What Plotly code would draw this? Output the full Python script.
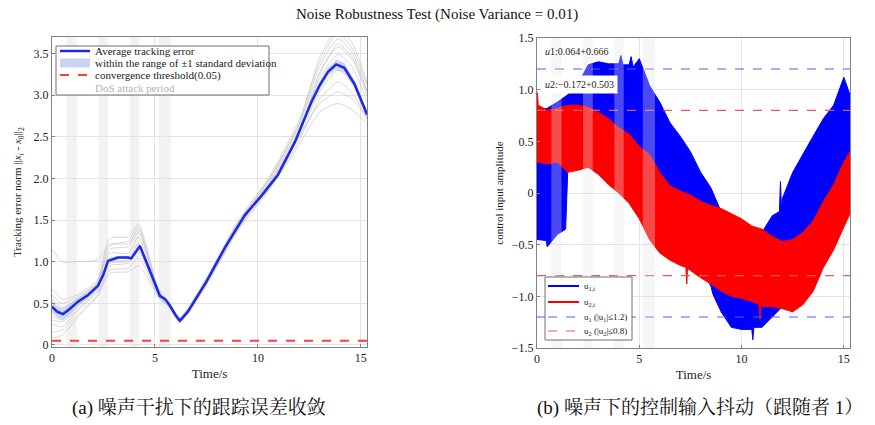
import plotly.graph_objects as go

SERIF = "Liberation Serif, Times New Roman, serif"
CJK = "Liberation Serif, Noto Serif CJK SC, Noto Sans CJK SC, serif"

# ---------------- data ----------------
dos_periods = [(0.70, 1.20), (2.25, 2.73), (3.78, 4.24), (5.17, 5.77)]

# (a) tracking error
t_mean = [0, 0.25, 0.53, 0.8, 1.26, 1.75, 2.23, 2.5, 2.72, 3.2, 3.69, 3.85, 4.27, 4.75,
          5.24, 5.5, 5.73, 6.0, 6.21, 6.6, 7.5, 8.4, 9.37, 10.2, 10.97, 11.8, 12.6, 13.0,
          13.4, 13.8, 14.2, 14.7, 15.3]
mean_err = [0.46, 0.40, 0.37, 0.42, 0.52, 0.60, 0.71, 0.85, 1.01, 1.05, 1.05, 1.04, 1.19, 0.90,
            0.59, 0.55, 0.47, 0.36, 0.29, 0.40, 0.76, 1.17, 1.56, 1.80, 2.04, 2.44, 2.92, 3.12,
            3.28, 3.37, 3.33, 3.13, 2.77]
std_err = [0.07, 0.07, 0.07, 0.06, 0.05, 0.04, 0.03, 0.03, 0.03, 0.02, 0.02, 0.02, 0.03, 0.02,
           0.02, 0.02, 0.02, 0.02, 0.02, 0.02, 0.02, 0.02, 0.02, 0.02, 0.02, 0.03, 0.04, 0.05,
           0.05, 0.06, 0.06, 0.05, 0.04]

t_trial = [0, 0.5, 1.2, 2.2, 2.8, 3.7, 4.2, 5.2, 5.7, 6.2, 7.5, 9.0, 10.5, 12.0, 13.0, 13.9, 14.6, 15.3]
trial_01 = [1.15, 1.00, 1.00, 1.02, 1.20, 1.25, 1.42, 0.62, 0.50, 0.31, 0.78, 1.45, 1.98, 2.65, 3.35, 3.68, 3.50, 3.05]
trial_02 = [0.68, 0.55, 0.60, 0.78, 1.28, 1.30, 1.45, 0.66, 0.50, 0.33, 0.80, 1.48, 2.00, 2.70, 3.40, 3.75, 3.55, 3.12]
trial_03 = [0.55, 0.45, 0.55, 0.75, 1.15, 1.18, 1.35, 0.62, 0.49, 0.31, 0.78, 1.44, 1.95, 2.62, 3.28, 3.58, 3.42, 3.00]
trial_04 = [0.35, 0.30, 0.45, 0.68, 1.00, 1.02, 1.22, 0.60, 0.48, 0.30, 0.76, 1.43, 1.93, 2.58, 3.20, 3.49, 3.33, 2.92]
trial_05 = [0.25, 0.22, 0.40, 0.64, 0.95, 0.98, 1.12, 0.58, 0.46, 0.28, 0.74, 1.40, 1.90, 2.50, 3.05, 3.30, 3.15, 2.80]
trial_06 = [0.15, 0.18, 0.35, 0.60, 0.90, 0.92, 1.05, 0.57, 0.46, 0.28, 0.73, 1.38, 1.87, 2.45, 2.95, 3.16, 3.02, 2.72]
trial_07 = [0.08, 0.12, 0.32, 0.58, 0.86, 0.88, 0.95, 0.56, 0.45, 0.27, 0.72, 1.36, 1.85, 2.40, 2.80, 2.90, 2.82, 2.66]
trial_08 = [0.45, 0.40, 0.50, 0.72, 1.10, 1.10, 1.30, 0.60, 0.47, 0.29, 0.76, 1.42, 1.92, 2.55, 3.25, 3.62, 3.45, 3.05]
trial_09 = [0.30, 0.28, 0.42, 0.66, 0.98, 1.00, 1.15, 0.59, 0.47, 0.30, 0.75, 1.41, 1.91, 2.50, 2.90, 3.04, 2.95, 2.72]
trial_10 = [0.60, 0.50, 0.58, 0.75, 1.20, 1.22, 1.38, 0.63, 0.50, 0.32, 0.79, 1.46, 1.97, 2.66, 3.45, 3.80, 3.62, 3.15]
trials = [trial_01, trial_02, trial_03, trial_04, trial_05, trial_06, trial_07, trial_08, trial_09, trial_10]
threshold = 0.05

t_u1_up = [0, 0.5, 1.0, 1.4, 1.5, 2.0, 2.5, 3.0, 3.5, 4.0, 4.1, 4.2, 4.5, 4.6, 4.7, 5.0, 5.5, 6.0, 6.5,
           7.0, 7.5, 8.0, 8.5, 9.0, 9.5, 10.0, 10.5, 11.0, 11.5, 11.85, 11.9, 11.95, 12.0, 12.5, 13.0,
           13.5, 14.0, 14.5, 15.0, 15.3]
u1_upper = [0.80, 0.82, 0.88, 0.93, 0.95, 1.05, 1.24, 1.27, 1.25, 1.25, 1.33, 1.24, 1.24, 1.32, 1.22,
            1.30, 1.04, 0.88, 0.68, 0.55, 0.40, 0.20, 0.05, -0.18, -0.28, -0.30, -0.36, -0.38, -0.22,
            -0.18, 0.11, -0.15, -0.05, 0.20, 0.38, 0.55, 0.72, 0.85, 1.12, 0.95]
t_u1_low = [0, 0.45, 0.5, 1.0, 1.4, 1.5, 2.0, 2.5, 3.0, 3.5, 4.0, 4.5, 5.0, 5.5, 6.0, 6.5, 7.0, 7.5,
            8.0, 8.5, 8.6, 9.0, 9.5, 10.0, 10.5, 10.55, 10.6, 11.0, 11.5, 12.0, 12.5, 13.0, 13.5,
            14.0, 14.5, 15.0, 15.3]
u1_lower = [-0.45, -0.46, -0.52, -0.40, -0.35, 0.20, 0.30, 0.35, 0.35, 0.30, 0.20, 0.05, -0.10, -0.25,
            -0.40, -0.50, -0.55, -0.62, -0.75, -0.90, -0.98, -1.15, -1.30, -1.32, -1.32, -1.42, -1.30,
            -1.30, -1.20, -1.10, -0.80, -0.60, -0.40, -0.20, 0.00, 0.15, 0.25]
t_u2_up = [0, 0.02, 0.06, 0.5, 1.0, 1.5, 2.0, 2.5, 3.0, 3.5, 4.0, 4.5, 5.0, 5.5, 6.0, 6.5, 7.0, 7.5,
           8.0, 8.5, 9.0, 9.5, 10.0, 10.5, 11.0, 11.5, 12.0, 12.5, 13.0, 13.5, 14.0, 14.5, 15.0, 15.3]
u2_upper = [0.85, 0.97, 0.85, 0.80, 0.82, 0.85, 0.85, 0.83, 0.78, 0.72, 0.63, 0.57, 0.45, 0.37, 0.20,
            0.07, 0.02, -0.02, -0.08, -0.12, -0.15, -0.20, -0.25, -0.32, -0.35, -0.42, -0.47, -0.45,
            -0.38, -0.27, -0.08, 0.08, 0.30, 0.40]
t_u2_low = [0, 0.5, 1.0, 1.5, 2.0, 2.5, 3.0, 3.5, 4.0, 4.5, 5.0, 5.5, 6.0, 6.5, 7.0, 7.28, 7.32, 7.36,
            7.5, 8.0, 8.5, 9.0, 9.5, 10.0, 10.5, 10.85, 10.9, 10.95, 11.0, 11.5, 12.0, 12.5, 13.0,
            13.5, 14.0, 14.5, 15.0, 15.3]
u2_lower = [0.30, 0.28, 0.30, 0.20, 0.22, 0.25, 0.18, 0.08, 0.00, -0.10, -0.25, -0.45, -0.58, -0.65,
            -0.70, -0.72, -0.88, -0.73, -0.75, -0.82, -0.88, -0.95, -1.00, -1.02, -1.05, -1.08, -1.22,
            -1.08, -1.10, -1.10, -1.12, -1.15, -1.08, -0.95, -0.72, -0.55, -0.33, -0.20]
u1_bound = 1.2
u2_bound = 0.8
u1_stat = "0.064+0.666"
u2_stat = "\u22120.172+0.503"

T_END = 15.3

# ---------------- figure ----------------
fig = go.Figure()

# (a) individual trials
for tr in trials:
    fig.add_trace(go.Scatter(x=t_trial, y=tr, mode="lines",
                             line=dict(color="rgba(190,190,190,0.75)", width=0.8, shape="spline", smoothing=0.6),
                             hoverinfo="skip", showlegend=False, xaxis="x", yaxis="y"))
band_x = t_mean + t_mean[::-1]
band_y = [m + s for m, s in zip(mean_err, std_err)] + [m - s for m, s in zip(mean_err, std_err)][::-1]
fig.add_trace(go.Scatter(x=band_x, y=band_y, fill="toself", fillcolor="rgba(160,185,235,0.55)",
                         line=dict(width=0), mode="lines", showlegend=False, xaxis="x", yaxis="y"))
fig.add_trace(go.Scatter(x=t_mean, y=mean_err, mode="lines", line=dict(color="rgb(30,40,230)", width=2.5),
                         showlegend=False, xaxis="x", yaxis="y"))
fig.add_trace(go.Scatter(x=[0, T_END], y=[threshold, threshold], mode="lines",
                         line=dict(color="rgb(255,60,60)", width=2, dash="dash"), showlegend=False, xaxis="x", yaxis="y"))

# (b) control inputs
fig.add_trace(go.Scatter(x=t_u1_up + t_u1_low[::-1], y=u1_upper + u1_lower[::-1], fill="toself", fillcolor="rgb(0,0,255)",
                         line=dict(color="rgb(0,0,255)", width=1), mode="lines", showlegend=False, xaxis="x2", yaxis="y2"))
fig.add_trace(go.Scatter(x=t_u2_up + t_u2_low[::-1], y=u2_upper + u2_lower[::-1], fill="toself", fillcolor="rgb(255,0,0)",
                         line=dict(color="rgb(255,0,0)", width=1), mode="lines", showlegend=False, xaxis="x2", yaxis="y2"))
for b, col in [(u1_bound, "rgb(90,90,245)"), (-u1_bound, "rgb(90,90,245)"),
               (u2_bound, "rgb(230,90,90)"), (-u2_bound, "rgb(230,90,90)")]:
    fig.add_trace(go.Scatter(x=[0, T_END], y=[b, b], mode="lines", line=dict(color=col, width=1.2, dash="dash"),
                             showlegend=False, xaxis="x2", yaxis="y2"))

W, H = 875, 425
def px(x):
    return x / W
def py(y):
    return 1 - y / H

shapes = []
for a, b in dos_periods:
    shapes.append(dict(type="rect", xref="x", yref="paper", x0=a, x1=b, y0=py(347), y1=py(37),
                       fillcolor="rgb(242,242,242)", line=dict(width=0), layer="below"))
    shapes.append(dict(type="rect", xref="x2", yref="paper", x0=a, x1=b, y0=py(348), y1=py(38),
                       fillcolor="rgba(228,228,228,0.32)", line=dict(width=0), layer="above"))

annotations = []
# left legend
shapes.append(dict(type="rect", xref="paper", yref="paper", x0=px(56), x1=px(269), y0=py(95), y1=py(46),
                   fillcolor="white", line=dict(color="rgb(110,110,110)", width=1), layer="above"))
shapes.append(dict(type="line", xref="paper", yref="paper", x0=px(60), x1=px(90), y0=py(51), y1=py(51),
                   line=dict(color="rgb(30,40,230)", width=2.5), layer="above"))
shapes.append(dict(type="rect", xref="paper", yref="paper", x0=px(60), x1=px(90), y0=py(67.5), y1=py(58.5),
                   fillcolor="rgb(200,214,244)", line=dict(width=0), layer="above"))
shapes.append(dict(type="line", xref="paper", yref="paper", x0=px(60), x1=px(90), y0=py(75), y1=py(75),
                   line=dict(color="rgb(255,60,60)", width=2, dash="dash"), layer="above"))
for row_y, txt, col in [(51, "Average tracking error", "#222"),
                        (63, "within the range of \u00b11 standard deviation", "#222"),
                        (75, "convergence threshold(0.05)", "#222"),
                        (88, "DoS attack period", "#b4b4b4")]:
    annotations.append(dict(xref="paper", yref="paper", x=px(93), y=py(row_y), text=txt, showarrow=False,
                            xanchor="left", yanchor="middle", font=dict(family=SERIF, size=11, color=col)))

# right legend
shapes.append(dict(type="rect", xref="paper", yref="paper", x0=px(545), x1=px(632), y0=py(340), y1=py(277),
                   fillcolor="white", line=dict(color="rgb(110,110,110)", width=1), layer="above"))
for row_y, col, dash, wdt in [(286, "rgb(0,0,255)", "solid", 2), (302, "rgb(255,0,0)", "solid", 2),
                              (317, "rgb(90,90,245)", "dash", 1.2), (331, "rgb(230,90,90)", "dash", 1.2)]:
    shapes.append(dict(type="line", xref="paper", yref="paper", x0=px(548), x1=px(579), y0=py(row_y), y1=py(row_y),
                       line=dict(color=col, width=wdt, dash=dash), layer="above"))
for row_y, txt in [(286, "u<sub>1,i</sub>"), (302, "u<sub>2,i</sub>"),
                   (317, "u<sub>1</sub> (|u<sub>1</sub>|\u22641.2)"), (331, "u<sub>2</sub> (|u<sub>2</sub>|\u22640.8)")]:
    annotations.append(dict(xref="paper", yref="paper", x=px(582), y=py(row_y), text=txt, showarrow=False,
                            xanchor="left", yanchor="middle", font=dict(family=SERIF, size=9, color="#222")))

# stat boxes
annotations.append(dict(xref="paper", yref="paper", x=px(543), y=py(52), text="<i>u</i>1:" + u1_stat, showarrow=False,
                        xanchor="left", yanchor="middle", font=dict(family=SERIF, size=10, color="#222")))
annotations.append(dict(xref="paper", yref="paper", x=px(541), y=py(84), text="<i>u</i>2:" + u2_stat, showarrow=False,
                        xanchor="left", yanchor="middle", bgcolor="white", borderpad=3,
                        font=dict(family=SERIF, size=10, color="#222")))

# title & captions
annotations.append(dict(xref="paper", yref="paper", x=px(437), y=py(15), text="Noise Robustness Test (Noise Variance = 0.01)",
                        showarrow=False, xanchor="center", yanchor="middle", font=dict(family=SERIF, size=15, color="#111")))
annotations.append(dict(xref="paper", yref="paper", x=px(199), y=py(408), text="(a) 噪声干扰下的跟踪误差收敛",
                        showarrow=False, xanchor="center", yanchor="middle", font=dict(family=CJK, size=19, color="#111")))
annotations.append(dict(xref="paper", yref="paper", x=px(700), y=py(408), text="(b) 噪声下的控制输入抖动（跟随者 1）",
                        showarrow=False, xanchor="center", yanchor="middle", font=dict(family=CJK, size=19, color="#111")))

axis_common = dict(showgrid=True, gridcolor="rgb(228,228,228)", gridwidth=1, zeroline=False,
                   showline=True, linecolor="rgb(130,130,130)", linewidth=1, mirror=True,
                   ticks="inside", ticklen=3, tickcolor="rgb(130,130,130)", automargin=False,
                   tickfont=dict(family=SERIF, size=12, color="#222"))

fig.update_layout(
    width=W, height=H, margin=dict(l=0, r=0, t=0, b=0, autoexpand=False),
    paper_bgcolor="white", plot_bgcolor="white", showlegend=False,
    xaxis=dict(domain=[px(52), px(367)], range=[0, T_END], tickvals=[0, 5, 10, 15], ticktext=["0", "5", "10", "15"],
               title=dict(text="Time/s", font=dict(family=SERIF, size=13, color="#222"), standoff=4), anchor="y", **axis_common),
    yaxis=dict(domain=[py(347), py(37)], range=[-0.025, 3.7], tickvals=[0, 0.5, 1, 1.5, 2, 2.5, 3, 3.5],
               ticktext=["0", "0.5", "1.0", "1.5", "2.0", "2.5", "3.0", "3.5"],
               title=dict(text="Tracking error norm ||<i>x</i><sub><i>i</i></sub> - <i>x</i><sub>0</sub>||<sub>2</sub>",
                          font=dict(family=SERIF, size=11, color="#222"), standoff=9), anchor="x", **axis_common),
    xaxis2=dict(domain=[px(537), px(850)], range=[0, T_END], tickvals=[0, 5, 10, 15], ticktext=["0", "5", "10", "15"],
                title=dict(text="Time/s", font=dict(family=SERIF, size=13, color="#222"), standoff=4), anchor="y2", **axis_common),
    yaxis2=dict(domain=[py(348), py(38)], range=[-1.5, 1.5], tickvals=[-1.5, -1, -0.5, 0, 0.5, 1, 1.5],
                ticktext=["\u22121.5", "\u22121.0", "\u22120.5", "0", "0.5", "1.0", "1.5"],
                title=dict(text="control input amplitude", font=dict(family=SERIF, size=11, color="#222"), standoff=5),
                anchor="x2", **axis_common),
    shapes=shapes, annotations=annotations,
)

fig.write_html("out.html", config={"displayModeBar": False},
               post_script="document.body.style.margin='0px';")
